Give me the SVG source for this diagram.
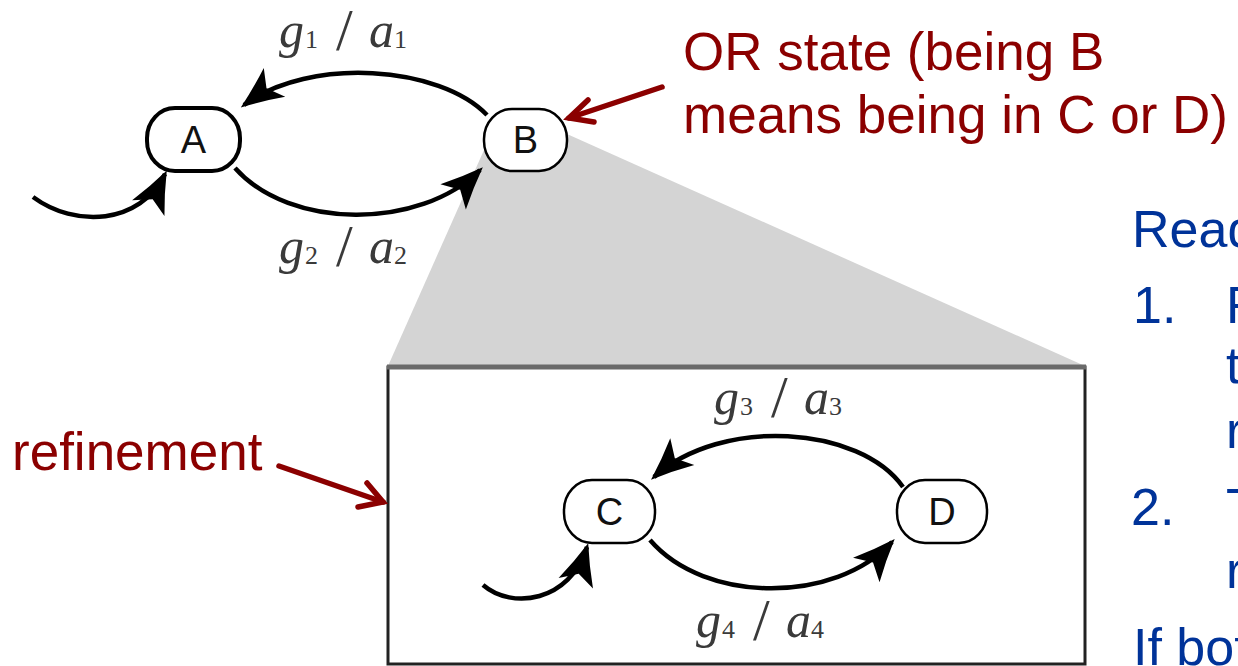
<svg xmlns="http://www.w3.org/2000/svg" width="1238" height="666" viewBox="0 0 1238 666">
<style>
.node{fill:#fff;stroke:#000;stroke-width:2.5}
.nlbl{font-family:"Liberation Sans","DejaVu Sans",sans-serif;font-size:38px;text-anchor:middle;fill:#111}
.edge{fill:none;stroke:#000;stroke-width:4.5;marker-end:url(#ah)}
.it{font-family:"Liberation Serif","DejaVu Serif",serif;font-style:italic;font-size:50px;fill:#3a3a3a}
.sub{font-family:"Liberation Serif","DejaVu Serif",serif;font-size:26px;fill:#3a3a3a}
.sl{font-family:"Liberation Serif","DejaVu Serif",serif;font-size:60px;fill:#3a3a3a}
.red{font-family:"Liberation Sans",Arial,sans-serif;font-size:53px;fill:#8b0000}
.blue{font-family:"Liberation Sans",Arial,sans-serif;font-size:52px;fill:#003399}
.rarrow{fill:none;stroke:#8b0000;stroke-width:5.5;stroke-linecap:round;stroke-linejoin:miter}
</style>
<defs>
<marker id="ah" markerUnits="userSpaceOnUse" markerWidth="50" markerHeight="44" viewBox="-44 -22 50 44" refX="0" refY="0" orient="auto">
<path d="M4,0 Q-18,-8 -38,-18 L-28,0 L-38,18 Q-18,8 4,0 Z" fill="#000"/>
</marker>
</defs>
<rect width="1238" height="666" fill="#fff"/>
<g id="zoom-region">
<polygon points="484,150 567,134 1085,366 388,366" fill="#d4d4d4"/>
</g>
<g id="refinement-box">
<rect x="388" y="367" width="697" height="297" fill="#fff" stroke="#222" stroke-width="3"/>
<line x1="387" y1="367" x2="1086" y2="367" stroke="#6a6a6a" stroke-width="5"/>
</g>
<g id="connectors">
<path class="edge" d="M487,115 C440,66 310,56 244,105"/>
<path class="edge" d="M235,168 C290,230 420,230 480,170"/>
<path class="edge" d="M33,197 C75,228 140,225 165,174"/>
<path class="edge" d="M903,487 C860,426 722,416 654,477"/>
<path class="edge" d="M650,540 C705,604 835,604 892,542"/>
<path class="edge" d="M483,585 C512,610 570,602 587,547"/>
<line class="rarrow" x1="662" y1="87" x2="569" y2="118"/>
<polyline class="rarrow" points="588,100 569,118 594,122"/>
<line class="rarrow" x1="279" y1="466" x2="383" y2="502"/>
<polyline class="rarrow" points="367,483 383,502 358,507"/>
</g>
<g id="node-A">
<rect class="node" x="147" y="108" width="93" height="63" rx="28" ry="30" style="stroke-width:4"/>
<text class="nlbl" x="193.5" y="153">A</text>
</g>
<g id="node-B">
<rect class="node" x="484" y="109" width="83" height="62" rx="28" ry="30"/>
<text class="nlbl" x="525.5" y="153">B</text>
</g>
<g id="node-C">
<rect class="node" x="564" y="480" width="91" height="63" rx="28" ry="30"/>
<text class="nlbl" x="609.5" y="525">C</text>
</g>
<g id="node-D">
<rect class="node" x="897" y="480" width="90" height="63" rx="28" ry="30"/>
<text class="nlbl" x="942" y="525">D</text>
</g>
<g id="label-g1a1">
<text class="it" x="279" y="47">g</text><text class="sub" x="305" y="48">1</text>
<text class="sl" x="336" y="50">/</text>
<text class="it" x="369" y="47">a</text><text class="sub" x="394" y="48">1</text>
</g>
<g id="label-g2a2">
<text class="it" x="279" y="263">g</text><text class="sub" x="305" y="264">2</text>
<text class="sl" x="336" y="266">/</text>
<text class="it" x="369" y="263">a</text><text class="sub" x="394" y="264">2</text>
</g>
<g id="label-g3a3">
<text class="it" x="714" y="414">g</text><text class="sub" x="740" y="415">3</text>
<text class="sl" x="771" y="417">/</text>
<text class="it" x="804" y="414">a</text><text class="sub" x="829" y="415">3</text>
</g>
<g id="label-g4a4">
<text class="it" x="696" y="637">g</text><text class="sub" x="722" y="638">4</text>
<text class="sl" x="753" y="640">/</text>
<text class="it" x="786" y="637">a</text><text class="sub" x="811" y="638">4</text>
</g>
<g id="note-or-state">
<text class="red" x="683" y="70">OR state (being B</text>
<text class="red" x="683" y="133">means being in C or D)</text>
</g>
<g id="note-refinement">
<text class="red" x="12" y="470">refinement</text>
</g>
<g id="side-text">
<text class="blue" x="1132" y="247">Read</text>
<text class="blue" x="1133" y="323">1.</text>
<text class="blue" x="1226" y="323">F</text>
<text class="blue" x="1226" y="383">t</text>
<text class="blue" x="1226" y="448">r</text>
<text class="blue" x="1131" y="525">2.</text>
<text class="blue" x="1226" y="525">T</text>
<text class="blue" x="1226" y="588">r</text>
<text class="blue" x="1133" y="665">If bot</text>
</g>
</svg>
